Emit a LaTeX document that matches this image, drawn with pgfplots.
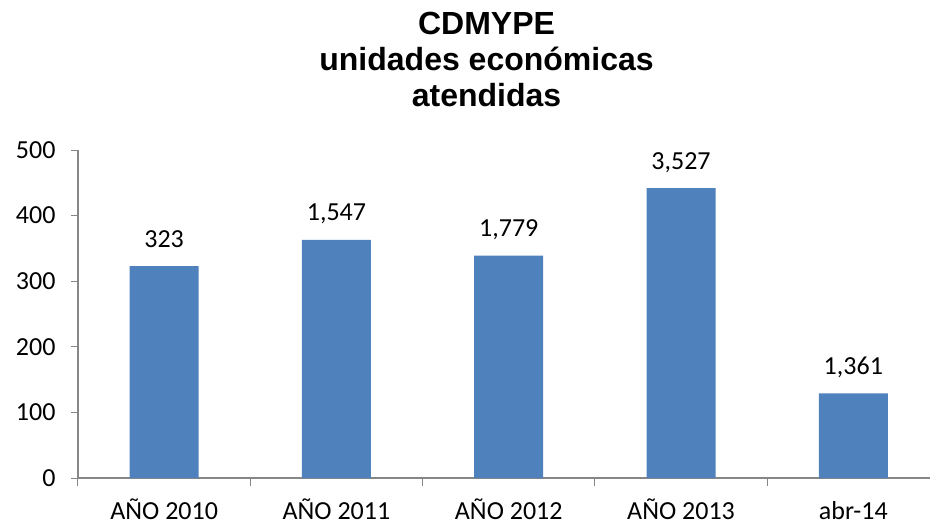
\documentclass[border=0pt]{standalone}
\usepackage{pgfplots}
\pgfplotsset{compat=1.18}
\usepackage{pgfplotstable}
\usepackage{fontspec}
\setmainfont{Carlito}
\newfontfamily\titlefont{Liberation Sans}
\definecolor{barblue}{HTML}{4F81BD}
\definecolor{axisgray}{HTML}{868686}

% bar heights as drawn, and the labels printed above them
\pgfplotstableread{
x y label
0 323 323
1 363 1,547
2 339 1,779
3 442 3,527
4 129 1,361
}\cdmype

\begin{document}
\begin{tikzpicture}
\begin{axis}[
    at={(0,0)}, anchor=south west,
    scale only axis,
    width=852bp, height=328bp,
    xmin=-0.5, xmax=4.445,
    ymin=0, ymax=500,
    ytick={0,100,...,500},
    xtick={0,1,2,3,4},
    xticklabels={AÑO 2010,AÑO 2011,AÑO 2012,AÑO 2013,abr-14},
    minor xtick={-0.5,0.5,1.5,2.5,3.5,4.5},
    major x tick style={draw=none},
    tick align=outside,
    major tick length=7bp,
    minor tick length=8bp,
    tick style={axisgray, line width=1bp},
    axis x line*=bottom,
    axis y line*=left,
    axis line style={axisgray, line width=1.2bp, -},
    /pgf/number format/assume math mode=true,
    ticklabel style={font=\fontsize{26bp}{30bp}\selectfont},
    xticklabel style={anchor=base, yshift=-34bp},
    yticklabel style={anchor=east, xshift=-12bp},
    ybar, bar width=69bp, bar shift=0pt,
    nodes near coords,
    point meta=explicit symbolic,
    nodes near coords style={font=\fontsize{26bp}{30bp}\selectfont, anchor=base, yshift=19bp},
    clip=false,
]
\addplot[fill=barblue, draw=none] table[x=x, y=y, meta=label] {\cdmype};
\node[anchor=north, align=center, font=\titlefont\bfseries\fontsize{32bp}{36bp}\selectfont]
  at (axis description cs:0.4795,1.431) {CDMYPE\\unidades económicas\\atendidas};
\end{axis}
\pgfresetboundingbox
\useasboundingbox (-78bp,-48bp) rectangle (852bp,478bp);
\end{tikzpicture}
\end{document}
